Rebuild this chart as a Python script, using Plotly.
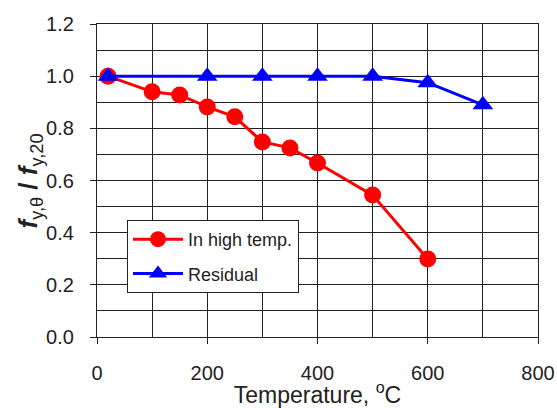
import plotly.graph_objects as go

temp_high = [20, 100, 150, 200, 250, 300, 350, 400, 500, 600]
ratio_high = [1.0, 0.94, 0.928, 0.882, 0.844, 0.748, 0.725, 0.667, 0.544, 0.299]

temp_res = [20, 200, 300, 400, 500, 600, 700]
ratio_res = [1.0, 1.0, 1.0, 1.0, 1.0, 0.975, 0.89]

x_ticks = [0, 200, 400, 600, 800]
y_ticks = [0.0, 0.2, 0.4, 0.6, 0.8, 1.0, 1.2]

FONT = "Liberation Sans, Arial, sans-serif"

fig = go.Figure()
fig.add_trace(go.Scatter(
    x=temp_high, y=ratio_high, name="In high temp.", mode="lines+markers",
    line=dict(color="#ff0000", width=3),
    marker=dict(symbol="circle", size=17, color="#ff0000"),
    legendgroup="a",
))
fig.add_trace(go.Scatter(
    x=temp_res, y=ratio_res, name="Residual", mode="lines+markers",
    line=dict(color="#0000ff", width=3),
    marker=dict(symbol="triangle-up", size=18, color="#0000ff"),
    legendgroup="b",
))

fig.update_layout(
    width=557, height=408,
    margin=dict(l=97, r=19, t=24, b=71),
    paper_bgcolor="white", plot_bgcolor="white",
    font=dict(family=FONT, color="#222222"),
    showlegend=True,
    legend=dict(
        x=0.068, y=0.374, xanchor="left", yanchor="top",
        bgcolor="white", bordercolor="#222222", borderwidth=1,
        font=dict(size=18, family=FONT, color="#222222"),
        tracegroupgap=8, traceorder="grouped",
        itemwidth=50,
    ),
    xaxis=dict(
        range=[0, 800], tickvals=x_ticks, ticktext=[str(v) for v in x_ticks],
        ticks="outside", ticklen=6, tickcolor="#222222", tickwidth=1.2,
        ticklabelstandoff=12,
        showgrid=True, gridcolor="#222222", gridwidth=1.3,
        minor=dict(dtick=100, showgrid=True, gridcolor="#222222", gridwidth=1.3),
        showline=True, linecolor="#222222", linewidth=1.3, mirror=True,
        zeroline=False, automargin=False,
        tickfont=dict(size=20, family=FONT, color="#222222"),
        title=dict(text="Temperature, <sup>o</sup>C",
                   font=dict(size=23, family=FONT, color="#222222"), standoff=0),
    ),
    yaxis=dict(
        range=[0, 1.2], tickvals=y_ticks, ticktext=[f"{v:.1f}" for v in y_ticks],
        ticks="outside", ticklen=6, tickcolor="#222222", tickwidth=1.2,
        ticklabelstandoff=12,
        showgrid=True, gridcolor="#222222", gridwidth=1.3,
        minor=dict(dtick=0.1, showgrid=True, gridcolor="#222222", gridwidth=1.3),
        showline=True, linecolor="#222222", linewidth=1.3, mirror=True,
        zeroline=False, automargin=False,
        tickfont=dict(size=20, family=FONT, color="#222222"),
    ),
    annotations=[dict(
        text="<b><i>f</i></b><sub>y,θ</sub><b> / <i>f</i></b><sub>y,20</sub>",
        xref="paper", yref="paper", x=-0.152, y=0.5,
        xanchor="center", yanchor="middle", textangle=-90, showarrow=False,
        font=dict(size=26, family=FONT, color="#222222"),
    )],
)

fig.write_html("out.html")
